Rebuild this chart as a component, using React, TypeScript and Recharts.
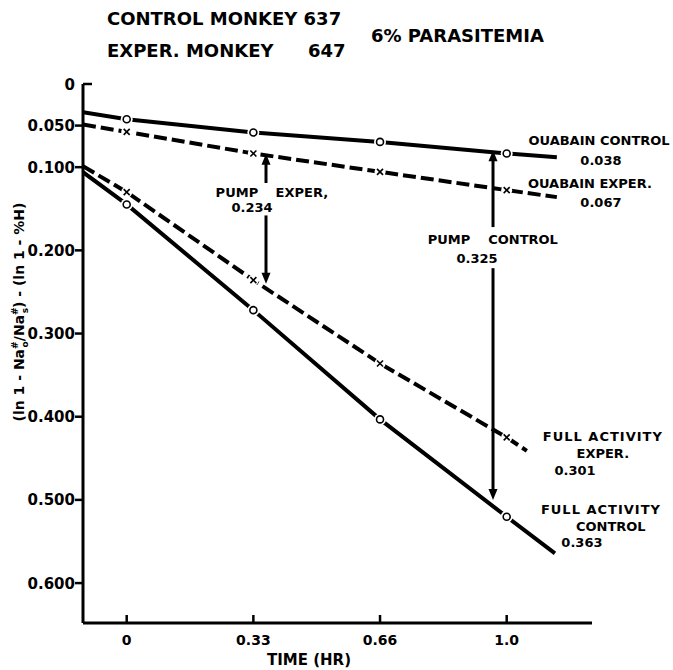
import React from 'react';
import { LineChart, Line, XAxis, YAxis, ReferenceLine, ReferenceDot } from 'recharts';

// ---------- data ----------
const AXIS_T = -0.115; // time at which the lines meet the y axis
const measureTimes = [0, 1 / 3, 2 / 3, 1];

const xTickValues = [0, 1 / 3, 2 / 3, 1];
const xTickLabels = ['0', '0.33', '0.66', '1.0'];
const yTickValues = [0, 0.05, 0.1, 0.2, 0.3, 0.4, 0.5, 0.6];
const yTickLabels = ['0', '0.050', '0.100', '0.200', '0.300', '0.400', '0.500', '0.600'];

const ouabainControl = [0.0423, 0.0583, 0.0696, 0.0835];
const ouabainExper = [0.0576, 0.0835, 0.1056, 0.1276];
const fullExper = [0.13, 0.2358, 0.336, 0.4249];
const fullControl = [0.1448, 0.2719, 0.4032, 0.5203];

const ouabainControlStart = 0.034;
const ouabainExperStart = 0.0487;
const fullExperStart = 0.0988;
const fullControlStart = 0.106;

const ouabainControlEnd = [1.132, 0.088];
const ouabainExperEnd = [1.132, 0.136];
const fullExperEnd = [1.053, 0.441];
const fullControlEnd = [1.127, 0.5643];

// pump arrows: time, upper tip, gap top, gap bottom, lower tip
const pumpExperArrow = [0.3666, 0.084, 0.119, 0.158, 0.24];
const pumpControlArrow = [0.964, 0.0796, 0.172, 0.2214, 0.5];

const annotations = [
  { text: 'OUABAIN CONTROL', t: 1.243, v: 0.0675 },
  { text: '0.038', t: 1.248, v: 0.0916 },
  { text: 'OUABAIN EXPER.', t: 1.219, v: 0.1192 },
  { text: '0.067', t: 1.248, v: 0.1421 },
  { text: 'PUMP', t: 0.848, v: 0.1865 },
  { text: 'CONTROL', t: 1.043, v: 0.1865 },
  { text: '0.325', t: 0.922, v: 0.2094 },
  { text: 'PUMP', t: 0.29, v: 0.13 },
  { text: 'EXPER,', t: 0.461, v: 0.13 },
  { text: '0.234', t: 0.33, v: 0.148 },
  { text: 'EXPER.', t: 1.253, v: 0.4438 },
  { text: '0.301', t: 1.18, v: 0.4642 },
  { text: 'CONTROL', t: 1.274, v: 0.5315 },
  { text: '0.363', t: 1.198, v: 0.5507 },
];
const spacedAnnotations = [
  { text: 'FULL ACTIVITY', t: 1.253, v: 0.4233 },
  { text: 'FULL ACTIVITY', t: 1.248, v: 0.511 },
];

// ---------- helpers ----------
const FONT = "'DejaVu Sans', 'Liberation Sans', sans-serif";

const buildRows = (start: number, values: number[], end: number[]) => [
  { t: AXIS_T, v: start, mark: false },
  ...measureTimes.map((t, i) => ({ t, v: values[i], mark: true })),
  { t: end[0], v: end[1], mark: false },
];

const circleDot = (p: any) => {
  if (!p.payload || !p.payload.mark) return <g key={`c${p.index}`} />;
  return (
    <g key={`c${p.index}`}>
      <circle cx={p.cx} cy={p.cy} r={6} fill="#fff" stroke="none" />
      <circle cx={p.cx} cy={p.cy} r={3.5} fill="#fff" stroke="#000" strokeWidth={1.6} />
    </g>
  );
};

const crossDot = (p: any) => {
  if (!p.payload || !p.payload.mark) return <g key={`x${p.index}`} />;
  const s = 3;
  return (
    <g key={`x${p.index}`}>
      <circle cx={p.cx} cy={p.cy} r={5.5} fill="#fff" stroke="none" />
      <line x1={p.cx - s} y1={p.cy - s} x2={p.cx + s} y2={p.cy + s} stroke="#000" strokeWidth={1.6} />
      <line x1={p.cx - s} y1={p.cy + s} x2={p.cx + s} y2={p.cy - s} stroke="#000" strokeWidth={1.6} />
    </g>
  );
};

const arrowShape = (props: any) => {
  const { x1, y1, x2, y2 } = props;
  const dir = Math.sign(y1 - y2) || 1;
  const L = 11;
  const W = 4.5;
  return (
    <g>
      <line x1={x1} y1={y1 - dir * L * 0.6} x2={x2} y2={y2} stroke="#000" strokeWidth={3} />
      <polygon points={`${x1},${y1} ${x1 - W},${y1 - dir * L} ${x1 + W},${y1 - dir * L}`} fill="#000" />
    </g>
  );
};

const XTick = (props: any) => {
  const { x, y, index } = props;
  return (
    <g>
      <line x1={x} y1={y} x2={x} y2={y - 8} stroke="#000" strokeWidth={2.5} />
      <text x={x} y={y + 22} textAnchor="middle" fontFamily={FONT} fontWeight="bold" fontSize={14} fill="#000">
        {xTickLabels[index]}
      </text>
    </g>
  );
};

const YTick = (props: any) => {
  const { x, y, index } = props;
  const inward = index === 0;
  return (
    <g>
      <line x1={inward ? x : x - 8} y1={y} x2={inward ? x + 9 : x} y2={y} stroke="#000" strokeWidth={2.5} />
      <text x={x - 8} y={y + 5.5} textAnchor="end" fontFamily={FONT} fontWeight="bold" fontSize={15} fill="#000">
        {yTickLabels[index]}
      </text>
    </g>
  );
};

const renderAnnotation = (a: any, i: number, spacing: number) => (
  <ReferenceDot
    key={`ann${spacing}-${i}`}
    x={a.t}
    y={a.v}
    r={1}
    ifOverflow="visible"
    shape={(p: any) => (
      <text
        x={p.cx}
        y={p.cy + 4.7}
        textAnchor="middle"
        fontFamily={FONT}
        fontWeight="bold"
        fontSize={13}
        letterSpacing={spacing}
        fill="#000"
      >
        {a.text}
      </text>
    )}
  />
);

const renderArrow = (a: number[], key: string) => [
  <ReferenceLine
    key={`${key}-top`}
    segment={[{ x: a[0], y: a[1] }, { x: a[0], y: a[2] }]}
    shape={arrowShape}
  />,
  <ReferenceLine
    key={`${key}-bot`}
    segment={[{ x: a[0], y: a[4] }, { x: a[0], y: a[3] }]}
    shape={arrowShape}
  />,
];

export default function App() {
  const lines = [
    { key: 'oc', data: buildRows(ouabainControlStart, ouabainControl, ouabainControlEnd), dashed: false },
    { key: 'oe', data: buildRows(ouabainExperStart, ouabainExper, ouabainExperEnd), dashed: true },
    { key: 'fe', data: buildRows(fullExperStart, fullExper, fullExperEnd), dashed: true },
    { key: 'fc', data: buildRows(fullControlStart, fullControl, fullControlEnd), dashed: false },
  ];
  return (
    <div style={{ position: 'absolute', left: 0, top: 0, width: 673, height: 670, background: '#fff' }}>
      <LineChart width={673} height={670} margin={{ top: 84, right: 81, bottom: 0, left: 23 }}>
        <XAxis
          type="number"
          dataKey="t"
          domain={[AXIS_T, 1.2245]}
          allowDataOverflow
          ticks={xTickValues}
          interval={0}
          height={47}
          tickSize={0}
          tickMargin={0}
          tickLine={false}
          axisLine={{ stroke: '#000', strokeWidth: 3 }}
          tick={<XTick />}
        />
        <YAxis
          type="number"
          domain={[0, 0.648]}
          reversed
          allowDataOverflow
          ticks={yTickValues}
          interval={0}
          width={60}
          tickSize={0}
          tickMargin={0}
          tickLine={false}
          axisLine={{ stroke: '#000', strokeWidth: 3 }}
          tick={<YTick />}
        />
        {lines.map((l) => (
          <Line
            key={l.key}
            data={l.data}
            dataKey="v"
            type="linear"
            stroke="#000"
            strokeWidth={4}
            strokeDasharray={l.dashed ? '13 5' : undefined}
            dot={l.dashed ? crossDot : circleDot}
            activeDot={false}
            isAnimationActive={false}
          />
        ))}
        {renderArrow(pumpExperArrow, 'pe')}
        {renderArrow(pumpControlArrow, 'pc')}
        {annotations.map((a, i) => renderAnnotation(a, i, 0))}
        {spacedAnnotations.map((a, i) => renderAnnotation(a, i, 1))}
      </LineChart>
      <svg width={673} height={670} style={{ position: 'absolute', left: 0, top: 0, pointerEvents: 'none' }}>
        <g fontFamily={FONT} fontWeight="bold" fill="#000">
          <text x={107} y={25} fontSize={18}>CONTROL MONKEY 637</text>
          <text x={107} y={57} fontSize={18}>EXPER. MONKEY</text>
          <text x={308} y={57} fontSize={18}>647</text>
          <text x={371} y={42} fontSize={18}>6% PARASITEMIA</text>
          <text x={309} y={665} fontSize={15} textAnchor="middle">TIME (HR)</text>
          <text x={24} y={312} fontSize={14} textAnchor="middle" transform="rotate(-90 24 312)">
            (ln 1 - Na
            <tspan dy={-6} fontSize={9}>#</tspan>
            <tspan dx={-6} dy={10} fontSize={9}>o</tspan>
            <tspan dy={-4}>/Na</tspan>
            <tspan dy={-6} fontSize={9}>#</tspan>
            <tspan dx={-6} dy={10} fontSize={9}>s</tspan>
            <tspan dy={-4}>) - (ln 1 - %H)</tspan>
          </text>
        </g>
      </svg>
    </div>
  );
}
